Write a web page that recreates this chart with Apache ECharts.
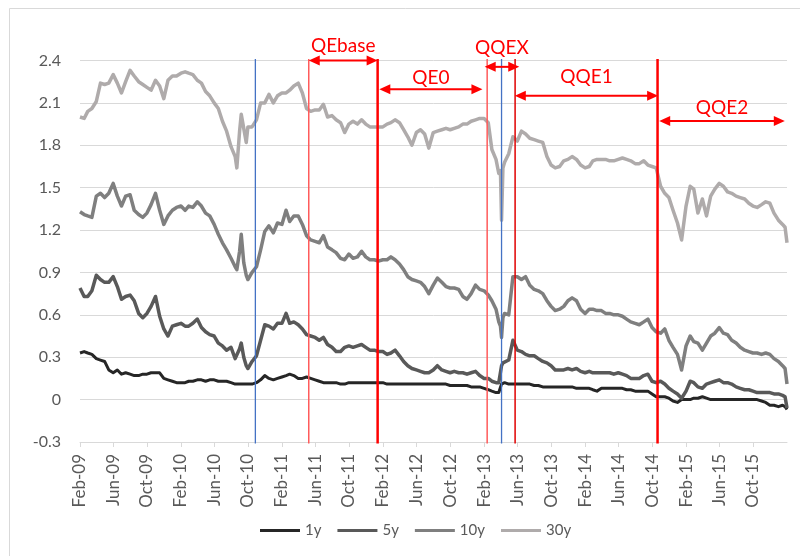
<!DOCTYPE html>
<html>
<head>
<meta charset="utf-8">
<script src="https://cdn.jsdelivr.net/npm/echarts@6/dist/echarts.min.js"></script>
<style>
html,body{margin:0;padding:0;background:#ffffff;}
#chart{width:800px;height:556px;}
</style>
</head>
<body>
<div id="chart"></div>
<script>
// ---- data ----
const dates = [
'2009-02-01','2009-02-16','2009-03-01','2009-03-16','2009-04-01','2009-04-16','2009-05-01','2009-05-16','2009-06-01','2009-06-16',
'2009-07-01','2009-07-16','2009-08-01','2009-08-16','2009-09-01','2009-09-16','2009-10-01','2009-10-16','2009-11-01','2009-11-16',
'2009-12-01','2009-12-16','2010-01-01','2010-01-16','2010-02-01','2010-02-16','2010-03-01','2010-03-16','2010-04-01','2010-04-16',
'2010-05-01','2010-05-16','2010-06-01','2010-06-16','2010-07-01','2010-07-16','2010-08-01','2010-08-16','2010-08-22','2010-09-01',
'2010-09-07','2010-09-16','2010-09-25','2010-10-01','2010-10-16','2010-11-01','2010-11-16','2010-12-01','2010-12-16','2011-01-01',
'2011-01-16','2011-02-01','2011-02-16','2011-03-01','2011-03-16','2011-04-01','2011-04-16','2011-05-01','2011-05-16','2011-06-01',
'2011-06-16','2011-07-01','2011-07-16','2011-08-01','2011-08-16','2011-09-01','2011-09-16','2011-10-01','2011-10-16','2011-11-01',
'2011-11-16','2011-12-01','2011-12-16','2012-01-01','2012-01-16','2012-02-01','2012-02-16','2012-03-01','2012-03-16','2012-04-01',
'2012-04-16','2012-05-01','2012-05-16','2012-06-01','2012-06-16','2012-07-01','2012-07-16','2012-08-01','2012-08-16','2012-09-01',
'2012-09-16','2012-10-01','2012-10-16','2012-11-01','2012-11-16','2012-12-01','2012-12-16','2013-01-01','2013-01-16','2013-02-01',
'2013-02-16','2013-03-01','2013-03-16','2013-03-26','2013-04-01','2013-04-05','2013-04-10','2013-04-16','2013-05-01','2013-05-16',
'2013-06-01','2013-06-16','2013-07-01','2013-07-16','2013-08-01','2013-08-16','2013-09-01','2013-09-16','2013-10-01','2013-10-16',
'2013-11-01','2013-11-16','2013-12-01','2013-12-16','2014-01-01','2014-01-16','2014-02-01','2014-02-16','2014-03-01','2014-03-16',
'2014-04-01','2014-04-16','2014-05-01','2014-05-16','2014-06-01','2014-06-16','2014-07-01','2014-07-16','2014-08-01','2014-08-16',
'2014-09-01','2014-09-16','2014-10-01','2014-10-16','2014-11-01','2014-11-16','2014-12-01','2014-12-16','2015-01-01','2015-01-16',
'2015-02-01','2015-02-16','2015-03-01','2015-03-16','2015-04-01','2015-04-16','2015-05-01','2015-05-16','2015-06-01','2015-06-16',
'2015-07-01','2015-07-16','2015-08-01','2015-08-16','2015-09-01','2015-09-16','2015-10-01','2015-10-16','2015-11-01','2015-11-16',
'2015-12-01','2015-12-16','2016-01-01','2016-01-16','2016-01-25','2016-02-01'
];
const y1 = [
0.33,0.34,0.33,0.32,0.29,0.28,0.27,0.21,0.19,0.21,
0.18,0.19,0.18,0.17,0.17,0.18,0.18,0.19,0.19,0.19,
0.15,0.14,0.13,0.12,0.12,0.12,0.13,0.13,0.14,0.14,
0.13,0.14,0.14,0.13,0.13,0.13,0.12,0.11,0.11,0.11,
0.11,0.11,0.11,0.11,0.11,0.12,0.14,0.17,0.15,0.14,
0.15,0.16,0.17,0.18,0.17,0.15,0.15,0.16,0.15,0.14,
0.13,0.12,0.12,0.12,0.12,0.11,0.11,0.12,0.12,0.12,
0.12,0.12,0.12,0.12,0.12,0.12,0.11,0.11,0.11,0.11,
0.11,0.11,0.11,0.11,0.11,0.11,0.11,0.11,0.11,0.11,
0.11,0.10,0.10,0.10,0.10,0.10,0.09,0.09,0.09,0.08,
0.07,0.06,0.05,0.05,0.06,0.11,0.12,0.12,0.11,0.11,
0.11,0.11,0.11,0.11,0.10,0.10,0.09,0.09,0.09,0.09,
0.09,0.09,0.09,0.09,0.08,0.08,0.08,0.08,0.07,0.06,
0.08,0.08,0.08,0.08,0.08,0.08,0.07,0.07,0.06,0.06,
0.06,0.06,0.04,0.02,0.02,0.02,0.01,-0.01,-0.02,0.00,
0.00,0.00,0.01,0.01,0.02,0.01,0.00,0.00,0.00,0.00,
0.00,0.00,0.00,0.00,0.00,0.00,0.00,0.00,-0.01,-0.02,
-0.04,-0.04,-0.05,-0.04,-0.05,-0.07
];
const y5 = [
0.79,0.73,0.73,0.77,0.88,0.85,0.83,0.83,0.87,0.80,
0.71,0.73,0.74,0.70,0.61,0.58,0.61,0.66,0.73,0.59,
0.50,0.45,0.52,0.53,0.54,0.52,0.52,0.54,0.57,0.51,
0.48,0.46,0.45,0.40,0.38,0.35,0.37,0.29,0.28,0.36,
0.40,0.30,0.24,0.22,0.27,0.31,0.42,0.53,0.52,0.50,
0.54,0.54,0.61,0.54,0.55,0.53,0.50,0.46,0.45,0.44,
0.42,0.44,0.39,0.37,0.34,0.34,0.37,0.38,0.37,0.38,
0.39,0.37,0.35,0.35,0.34,0.34,0.32,0.33,0.35,0.31,
0.27,0.24,0.22,0.21,0.20,0.19,0.19,0.21,0.24,0.21,
0.20,0.19,0.20,0.19,0.19,0.18,0.19,0.20,0.17,0.15,
0.15,0.13,0.12,0.12,0.13,0.24,0.26,0.27,0.28,0.42,
0.35,0.34,0.32,0.31,0.31,0.29,0.27,0.26,0.24,0.21,
0.21,0.21,0.22,0.21,0.22,0.20,0.19,0.20,0.19,0.19,
0.19,0.19,0.19,0.18,0.19,0.18,0.17,0.15,0.15,0.15,
0.17,0.18,0.13,0.12,0.13,0.11,0.08,0.06,0.04,0.01,
0.06,0.13,0.12,0.09,0.08,0.11,0.12,0.13,0.14,0.12,
0.12,0.11,0.09,0.08,0.07,0.07,0.06,0.05,0.05,0.05,
0.05,0.04,0.04,0.03,0.02,-0.06
];
const y10 = [
1.33,1.31,1.30,1.29,1.44,1.46,1.43,1.46,1.53,1.44,
1.37,1.44,1.45,1.34,1.31,1.29,1.32,1.38,1.46,1.34,
1.24,1.30,1.34,1.36,1.37,1.34,1.37,1.36,1.40,1.37,
1.32,1.30,1.24,1.17,1.11,1.06,1.00,0.94,0.92,1.05,
1.17,0.97,0.88,0.85,0.90,0.94,1.06,1.19,1.23,1.18,
1.25,1.24,1.34,1.26,1.30,1.30,1.24,1.16,1.13,1.12,
1.11,1.16,1.08,1.06,1.04,1.00,0.99,1.03,1.00,1.01,
1.05,1.01,0.99,0.99,0.98,0.99,0.99,1.01,0.99,0.96,
0.92,0.87,0.85,0.84,0.83,0.80,0.75,0.81,0.86,0.83,
0.80,0.79,0.79,0.78,0.73,0.71,0.75,0.81,0.78,0.77,
0.74,0.70,0.64,0.55,0.52,0.44,0.58,0.61,0.60,0.87,
0.87,0.85,0.87,0.81,0.78,0.77,0.75,0.70,0.66,0.63,
0.64,0.66,0.70,0.72,0.70,0.64,0.61,0.64,0.64,0.63,
0.63,0.61,0.61,0.60,0.60,0.59,0.57,0.55,0.54,0.53,
0.55,0.57,0.51,0.48,0.47,0.50,0.42,0.37,0.32,0.21,
0.38,0.45,0.41,0.40,0.35,0.40,0.45,0.47,0.51,0.47,
0.46,0.42,0.40,0.37,0.35,0.34,0.33,0.33,0.32,0.33,
0.32,0.29,0.27,0.24,0.22,0.11
];
const y30 = [
2.00,1.99,2.04,2.06,2.11,2.24,2.23,2.24,2.30,2.24,
2.17,2.25,2.33,2.29,2.25,2.23,2.21,2.19,2.26,2.22,
2.13,2.26,2.29,2.29,2.31,2.32,2.31,2.30,2.26,2.24,
2.18,2.15,2.10,2.06,1.97,1.90,1.79,1.72,1.64,1.90,
2.02,1.92,1.82,1.93,1.93,1.98,2.10,2.10,2.16,2.10,
2.15,2.17,2.17,2.19,2.22,2.24,2.17,2.06,2.04,2.05,
2.05,2.09,2.00,2.01,1.98,1.96,1.89,1.95,1.97,1.95,
1.98,1.95,1.93,1.93,1.93,1.93,1.95,1.96,1.98,1.96,
1.91,1.86,1.80,1.89,1.91,1.88,1.78,1.89,1.90,1.91,
1.92,1.91,1.92,1.93,1.95,1.95,1.97,1.98,1.99,1.99,
1.96,1.77,1.70,1.60,1.62,1.27,1.64,1.68,1.74,1.86,
1.83,1.90,1.88,1.85,1.84,1.83,1.82,1.72,1.66,1.64,
1.65,1.69,1.70,1.72,1.70,1.66,1.64,1.65,1.69,1.70,
1.70,1.70,1.69,1.69,1.70,1.71,1.70,1.69,1.67,1.67,
1.69,1.66,1.65,1.64,1.51,1.46,1.43,1.34,1.25,1.13,
1.37,1.51,1.49,1.32,1.42,1.30,1.44,1.49,1.53,1.51,
1.47,1.46,1.44,1.43,1.42,1.39,1.37,1.36,1.38,1.40,
1.39,1.32,1.27,1.24,1.22,1.11
];
const seriesNames = ['1y','5y','10y','30y'];
const tickDates = ['2009-02-01','2009-06-01','2009-10-01','2010-02-01','2010-06-01','2010-10-01','2011-02-01','2011-06-01','2011-10-01','2012-02-01','2012-06-01','2012-10-01','2013-02-01','2013-06-01','2013-10-01','2014-02-01','2014-06-01','2014-10-01','2015-02-01','2015-06-01','2015-10-01'];
const tickLabels = ['Feb-09','Jun-09','Oct-09','Feb-10','Jun-10','Oct-10','Feb-11','Jun-11','Oct-11','Feb-12','Jun-12','Oct-12','Feb-13','Jun-13','Oct-13','Feb-14','Jun-14','Oct-14','Feb-15','Jun-15','Oct-15'];
const eventDates = ['2010-10-28','2011-05-09','2012-01-13','2013-02-12','2013-04-05','2013-05-24','2014-10-21'];
const periodNames = ['QEbase','QE0','QQEX','QQE1','QQE2'];
const periodStart = ['2011-05-09','2012-01-19','2013-02-03','2013-05-23','2014-10-27'];
const periodEnd = ['2012-01-13','2013-01-26','2013-06-08','2014-10-23','2016-01-24'];

// ---- styling / layout ----
const FONT = 'Lato';
const seriesColors = ['#262626','#595959','#7f7f7f','#afabab'];
const seriesWidths = [3, 3.5, 3.5, 3.5];
const eventStyle = [
  {color:'#4472c4', width:1.3},
  {color:'#ff5b5b', width:1.5},
  {color:'#ff0000', width:2.5},
  {color:'#ff5b5b', width:1.5},
  {color:'#4472c4', width:1.3},
  {color:'#e00000', width:1.5},
  {color:'#ff0000', width:2.5}
];
const arrowLevel = [2.40, 2.197, 2.355, 2.150, 1.972];
const labelLevel = [2.507, 2.276, 2.489, 2.283, 2.064];

function ts(s){const p=s.split('-').map(Number);return Date.UTC(p[0],p[1]-1,p[2]);}
const tickValues = tickDates.map(ts);

const chart = echarts.init(document.getElementById('chart'), null, {renderer:'canvas'});
const allY = [y1,y5,y10,y30];
const option = {
  animation:false,
  backgroundColor:'#ffffff',
  grid:{left:80,right:13,top:60.5,bottom:114,outerBoundsMode:'none',containLabel:false},
  xAxis:{
    type:'value',
    min:ts('2009-02-01'), max:ts('2016-02-01'),
    axisLine:{show:true,onZero:false,lineStyle:{color:'#d9d9d9',width:1}},
    axisTick:{show:true,customValues:tickValues,length:5,lineStyle:{color:'#d9d9d9',width:1}},
    axisLabel:{
      customValues:tickValues, rotate:90, margin:12,
      fontSize:17, color:'#595959', fontFamily:FONT,
      formatter:function(v){
        for(let i=0;i<tickValues.length;i++){ if(Math.abs(tickValues[i]-v)<43200000) return tickLabels[i]; }
        return '';
      }
    },
    splitLine:{show:false}
  },
  yAxis:{
    type:'value', min:-0.3, max:2.4, interval:0.3,
    axisLine:{show:false}, axisTick:{show:false},
    splitLine:{lineStyle:{color:'#d9d9d9',width:1}},
    axisLabel:{fontSize:16,color:'#595959',fontFamily:FONT,margin:19,
      formatter:function(v){return String(+v.toFixed(1));}}
  },
  legend:{
    data:seriesNames, left:260, top:523, padding:0,
    icon:'rect', itemWidth:40, itemHeight:3, itemGap:16,
    textStyle:{fontSize:15,color:'#595959',fontFamily:FONT},
    selectedMode:false
  },
  series: seriesNames.map(function(n,k){
    return {
      name:n, type:'line', symbol:'none', showSymbol:false, smooth:false,
      data: dates.map(function(d,i){return [ts(d), allY[k][i]];}),
      lineStyle:{color:seriesColors[k], width:seriesWidths[k], join:'round'},
      itemStyle:{color:seriesColors[k]},
      emphasis:{disabled:true}, z:2+k
    };
  })
};
chart.setOption(option);

function px(d, v){ return chart.convertToPixel({gridIndex:0},[ts(d), v]); }
const g = [];
g.push({type:'rect', silent:true, z:0, shape:{x:9.5,y:8.5,width:830,height:600}, style:{fill:'none',stroke:'#d9d9d9',lineWidth:1}});
eventDates.forEach(function(d,i){
  const a = px(d, 2.41), b = px(d, -0.31);
  g.push({type:'line', silent:true, z:100, shape:{x1:a[0],y1:a[1],x2:b[0],y2:b[1]},
    style:{stroke:eventStyle[i].color, lineWidth:eventStyle[i].width}});
});
periodNames.forEach(function(n,i){
  const a = px(periodStart[i], arrowLevel[i]), b = px(periodEnd[i], arrowLevel[i]);
  const y = a[1], x1 = a[0], x2 = b[0];
  g.push({type:'line', silent:true, z:101, shape:{x1:x1+6,y1:y,x2:x2-6,y2:y}, style:{stroke:'#ff0000',lineWidth:2}});
  g.push({type:'polygon', silent:true, z:101, shape:{points:[[x1,y],[x1+11,y-5],[x1+11,y+5]]}, style:{fill:'#ff0000'}});
  g.push({type:'polygon', silent:true, z:101, shape:{points:[[x2,y],[x2-11,y-5],[x2-11,y+5]]}, style:{fill:'#ff0000'}});
  const t = px(periodStart[i], labelLevel[i]);
  g.push({type:'text', silent:true, z:102, style:{text:n, x:(x1+x2)/2, y:t[1], fill:'#ff0000',
    fontSize:19, fontFamily:FONT, align:'center', verticalAlign:'middle', textAlign:'center', textVerticalAlign:'middle'}});
});
chart.setOption({graphic:g});
</script>
</body>
</html>
